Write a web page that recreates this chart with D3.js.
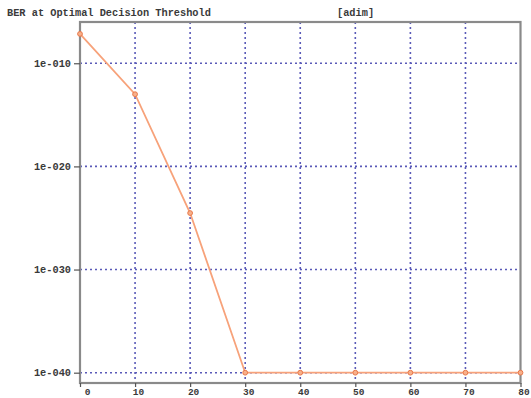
<!DOCTYPE html>
<html>
<head>
<meta charset="utf-8">
<script src="https://cdn.jsdelivr.net/npm/d3@7"></script>
<style>
  html, body { margin: 0; padding: 0; background: #fff; }
  svg { display: block; }
  text { font-family: "Liberation Mono", "DejaVu Sans Mono", monospace; fill: #333; }
</style>
</head>
<body>
<svg id="chart" width="531" height="398"></svg>
<script>
// Bit error rate vs. swept parameter
const xValues = [0, 10, 20, 30, 40, 50, 60, 70, 80];
const berValues = [7e-8, 1e-13, 3e-25, 1e-40, 1e-40, 1e-40, 1e-40, 1e-40, 1e-40];
const xTicks = [0, 10, 20, 30, 40, 50, 60, 70, 80];
const yTicks = [1e-10, 1e-20, 1e-30, 1e-40];
const yTickLabels = ["1e-010", "1e-020", "1e-030", "1e-040"];
const titleText = "BER at Optimal Decision Threshold";
const unitText = "[adim]";

const svg = d3.select("#chart");
const plotL = 80, plotR = 520.5, plotT = 22, plotB = 383;

const x = d3.scaleLinear().domain([0, 80]).range([plotL, plotR]);
const y = d3.scaleLog().domain([1e-41, 1e-6]).range([plotB, plotT]);

// Title and unit
svg.append("text").attr("x", 7).attr("y", 16).attr("font-size", 10.3)
  .attr("font-weight", "bold").style("fill", "#3a3a3a").text(titleText);
svg.append("text").attr("x", 337).attr("y", 16).attr("font-size", 10.3)
  .attr("font-weight", "bold").style("fill", "#3a3a3a").text(unitText);

// Grid lines
const gridColor = "#5a5ab8";
svg.append("g").selectAll("line").data(xTicks.filter(d => d > 0 && d < 80)).join("line")
  .attr("x1", d => x(d)).attr("x2", d => x(d))
  .attr("y1", plotT).attr("y2", plotB)
  .attr("stroke", gridColor).attr("stroke-width", 1.6)
  .attr("stroke-dasharray", "2,3");
svg.append("g").selectAll("line").data(yTicks).join("line")
  .attr("x1", plotL).attr("x2", plotR)
  .attr("y1", d => y(d)).attr("y2", d => y(d))
  .attr("stroke", gridColor).attr("stroke-width", 1.6)
  .attr("stroke-dasharray", "2,3");

// Frame
svg.append("rect").attr("x", plotL).attr("y", plotT)
  .attr("width", plotR - plotL).attr("height", plotB - plotT)
  .attr("fill", "none").attr("stroke", "#8a8a8a").attr("stroke-width", 2.2);

// Axes
const yAxis = d3.axisLeft(y).tickValues(yTicks)
  .tickFormat((d, i) => yTickLabels[i]).tickSize(6).tickPadding(3);
const gy = svg.append("g").attr("transform", `translate(${plotL},0)`).call(yAxis);
gy.select(".domain").remove();
gy.selectAll(".tick line").attr("stroke", "#555").attr("stroke-width", 1.2);
gy.selectAll(".tick text").attr("font-family", "Liberation Mono, monospace")
  .attr("font-size", 10.3).attr("font-weight", "bold").style("fill", "#3a3a3a");

const xAxis = d3.axisBottom(x).tickValues(xTicks).tickFormat(d3.format("d"))
  .tickSize(4).tickPadding(1);
const gx = svg.append("g").attr("transform", `translate(0,${plotB})`).call(xAxis);
gx.select(".domain").remove();
gx.selectAll(".tick line").attr("stroke", "#555").attr("stroke-width", 1.2);
gx.selectAll(".tick text").attr("font-family", "Liberation Mono, monospace")
  .attr("font-size", 9.5).attr("font-weight", "bold").style("fill", "#3a3a3a")
  .attr("dx", d => d === 0 ? 7 : 3);

// Series
const pts = xValues.map((v, i) => [v, berValues[i]]);
svg.append("path").datum(pts)
  .attr("fill", "none").attr("stroke", "#f7a27a").attr("stroke-width", 1.8)
  .attr("d", d3.line().x(d => x(d[0])).y(d => y(d[1])));
svg.append("g").selectAll("circle").data(pts).join("circle")
  .attr("cx", d => x(d[0])).attr("cy", d => y(d[1])).attr("r", 2.4)
  .attr("fill", "#f8b08a").attr("stroke", "#e8784a").attr("stroke-width", 1);
</script>
</body>
</html>
